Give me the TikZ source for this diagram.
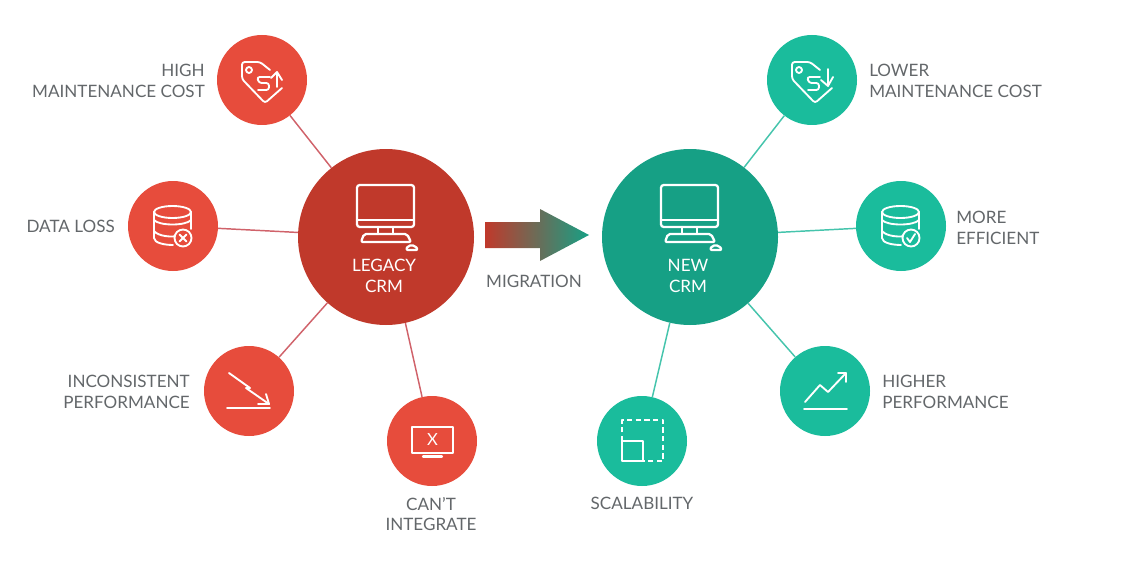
\documentclass[tikz,border=0pt]{standalone}
\usepackage{fontspec}
\setmainfont{Lato}
\definecolor{bigred}{HTML}{C0392B}
\definecolor{smallred}{HTML}{E74C3C}
\definecolor{biggreen}{HTML}{16A085}
\definecolor{smallgreen}{HTML}{1ABC9C}
\definecolor{linkred}{HTML}{D0626A}
\definecolor{linkgreen}{HTML}{45C4AC}
\definecolor{labelgrey}{HTML}{63676A}
\tikzset{
  x=0.75pt,y=-0.75pt,
  hub/.style={circle,inner sep=0pt,minimum size=132pt},
  spoke/.style={circle,inner sep=0pt,minimum size=67.5pt},
  redhub/.style={hub,fill=bigred},
  greenhub/.style={hub,fill=biggreen},
  redspoke/.style={spoke,fill=smallred},
  greenspoke/.style={spoke,fill=smallgreen},
  linkr/.style={draw=linkred,line width=1.1pt},
  linkg/.style={draw=linkgreen,line width=1.1pt},
  lbl/.style={text=labelgrey,font=\fontsize{12.8}{15}\selectfont,inner sep=0pt},
  lblr/.style={lbl,align=right,anchor=east},
  lbll/.style={lbl,align=left,anchor=west},
  lblc/.style={lbl,align=center,anchor=center},
  hubtext/.style={text=white,font=\fontsize{12.8}{15}\selectfont,align=center,inner sep=0pt},
  icon/.style={draw=white,line width=1.4pt,line cap=round,line join=round},
  bigicon/.style={draw=white,line width=1.7pt,line cap=round,line join=round},
}
\newcommand{\monitoricon}[1]{%
  \begin{scope}[shift={(#1.center)}]
    \draw[bigicon,rounded corners=2pt] (-29,-52) rectangle (28,-10);
    \draw[bigicon] (-29,-17) -- (28,-17);
    \draw[bigicon] (-8,-10) -- (-8,-4) (7,-10) -- (7,-4);
    \draw[bigicon,rounded corners=1.5pt] (-22,-3) -- (21,-3) -- (25,5) -- (-25,5) -- cycle;
    \draw[bigicon,rounded corners=1.5pt] (20,13) -- (22,8.5) -- (29,8.5) -- (32,13) -- cycle;
  \end{scope}}
\newcommand{\tagicon}[2]{%
  \begin{scope}[shift={(#1.center)}]
    \draw[icon,rounded corners=2pt] (8,-10) -- (-2,-18) -- (-20,-18) -- (-20,-1) -- (3,23) -- (20,8);
    \draw[icon] (-13,-10) circle (3);
    \draw[icon,rounded corners=2pt] (8,-3) -- (-5,-3) -- (-3,3) -- (7,3) -- (7,10) -- (-4,10);
    \ifnum#2=1
      \draw[icon] (15,7) -- (15,-8) (9,-2) -- (15,-8) -- (20,0);
    \else
      \draw[icon] (16,-11) -- (16,6) (9,0) -- (16,6) -- (21,-3);
    \fi
  \end{scope}}
\newcommand{\dbicon}[2]{%
  \begin{scope}[shift={(#1.center)}]
    \draw[icon] (-19,-14) -- (-19,12) .. controls (-19,17) and (-8,19) .. (0,19)
      (18,-14) -- (18,3);
    \draw[icon] (-0.5,-14) ellipse [x radius=18.5,y radius=6];
    \draw[icon] (-19,-6) .. controls (-14,0) and (13,0) .. (18,-6);
    \draw[icon] (-19,5) .. controls (-14,11) and (0,11) .. (4,10);
    \draw[icon,fill=#2] (10,12) circle (8.5);
  \end{scope}}
\begin{document}
\begin{tikzpicture}
\useasboundingbox (0,0) rectangle (1144,581);
% hubs
\node[redhub] (legacy) at (386,237) {};
\node[greenhub] (newcrm) at (690,237) {};
% spokes
\node[redspoke] (high) at (262,80) {};
\node[redspoke] (loss) at (173,226) {};
\node[redspoke] (incons) at (249,391) {};
\node[redspoke] (cant) at (432,441) {};
\node[greenspoke] (lower) at (812,80) {};
\node[greenspoke] (effic) at (901,226) {};
\node[greenspoke] (higher) at (825,391) {};
\node[greenspoke] (scal) at (642,441) {};
% connectors
\draw[linkr] (high) -- (legacy);
\draw[linkr] (loss) -- (legacy);
\draw[linkr] (incons) -- (legacy);
\draw[linkr] (cant) -- (legacy);
\draw[linkg] (lower) -- (newcrm);
\draw[linkg] (effic) -- (newcrm);
\draw[linkg] (higher) -- (newcrm);
\draw[linkg] (scal) -- (newcrm);
% migration arrow
\shade[left color=bigred,right color=biggreen]
  (485,222) -- (540,222) -- (540,209) -- (589,235) -- (540,261) -- (540,248) -- (485,248) -- cycle;
\node[lblc] (miglabel) at (534,281) {MIGRATION};
% hub texts
\node[hubtext] (legacytext) at (384,276) {LEGACY\\[0.6pt]CRM};
\node[hubtext] (newtext) at (688,276) {NEW\\[0.6pt]CRM};
\monitoricon{legacy}
\monitoricon{newcrm}
% labels
\node[lblr] (l1) at (205,81) {HIGH\\[0.6pt]MAINTENANCE COST};
\node[lblr] (l2) at (115,226) {DATA LOSS};
\node[lblr] (l3) at (190,392) {INCONSISTENT\\[0.6pt]PERFORMANCE};
\node[lblc] (l4) at (431,514) {CAN'T\\[0.6pt]INTEGRATE};
\node[lbll] (r1) at (869,81) {LOWER\\[0.6pt]MAINTENANCE COST};
\node[lbll] (r2) at (956,228) {MORE\\[0.6pt]EFFICIENT};
\node[lbll] (r3) at (882,392) {HIGHER\\[0.6pt]PERFORMANCE};
\node[lblc] (r4) at (642,503) {SCALABILITY};
% icons
\tagicon{high}{1}
\tagicon{lower}{0}
\dbicon{loss}{smallred}
\dbicon{effic}{smallgreen}
\begin{scope}[shift={(loss.center)}]
  \draw[icon] (6.5,8.5) -- (13.5,15.5) (13.5,8.5) -- (6.5,15.5);
\end{scope}
\begin{scope}[shift={(effic.center)}]
  \draw[icon] (6,12) -- (9,16) -- (14,8);
\end{scope}
% falling performance icon
\begin{scope}[shift={(incons.center)}]
  \draw[icon] (-22,17) -- (21,17);
  \draw[icon] (-20,-18) -- (1,-3) -- (-3,-3) -- (20,13);
  \draw[icon] (9,13) -- (20,13) -- (17,3);
\end{scope}
% tv icon
\begin{scope}[shift={(cant.center)}]
  \draw[icon,line width=1.8pt,line cap=butt] (-20,-14) rectangle (21,12);
  \draw[icon,line width=1.6pt] (-9,15.5) -- (10,15.5);
  \node[text=white,font=\fontsize{12.5}{14}\selectfont,inner sep=0pt] (tvx) at (0.5,-1) {X};
\end{scope}
% scalability icon
\begin{scope}[shift={(scal.center)}]
  \draw[icon,line cap=butt,dash pattern=on 4pt off 2.5pt] (-20,0) -- (-20,-21) -- (21,-21) -- (21,20) -- (1,20);
  \draw[icon,line cap=butt] (-20,0) rectangle (1,20);
\end{scope}
% rising performance icon
\begin{scope}[shift={(higher.center)}]
  \draw[icon] (-21,18) -- (22,18);
  \draw[icon] (-20,11) -- (-5,-6) -- (3,1) -- (21,-18);
  \draw[icon] (13,-18) -- (21,-18) -- (21,-9);
\end{scope}
\end{tikzpicture}
\end{document}
